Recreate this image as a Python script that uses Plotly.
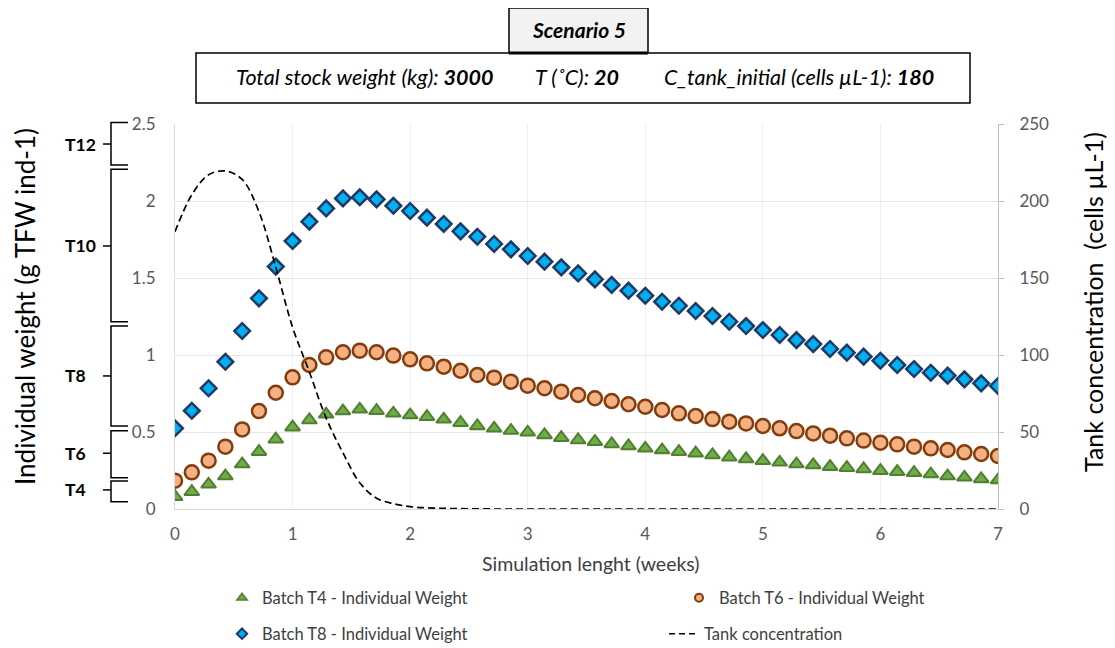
import plotly.graph_objects as go

# ---------------- data ----------------
days = list(range(50))
weeks = [d / 7 for d in days]

t4_weight = [0.080, 0.112, 0.160, 0.214, 0.292, 0.372, 0.453, 0.531, 0.578, 0.615,
             0.636, 0.647, 0.638, 0.621, 0.610, 0.599, 0.582, 0.560, 0.539, 0.524,
             0.509, 0.498, 0.481, 0.463, 0.448, 0.437, 0.422, 0.409, 0.394, 0.383,
             0.372, 0.362, 0.351, 0.336, 0.325, 0.314, 0.303, 0.292, 0.286, 0.275,
             0.268, 0.260, 0.249, 0.242, 0.236, 0.227, 0.214, 0.206, 0.195, 0.188]

t6_weight = [0.184, 0.238, 0.314, 0.405, 0.517, 0.636, 0.755, 0.855, 0.935, 0.985,
             1.018, 1.028, 1.018, 0.996, 0.972, 0.946, 0.924, 0.898, 0.870, 0.853,
             0.827, 0.801, 0.784, 0.762, 0.740, 0.719, 0.701, 0.680, 0.664, 0.643,
             0.621, 0.604, 0.584, 0.567, 0.556, 0.539, 0.524, 0.506, 0.491, 0.476,
             0.459, 0.444, 0.431, 0.420, 0.405, 0.394, 0.383, 0.368, 0.357, 0.344]

t8_weight = [0.524, 0.638, 0.784, 0.956, 1.156, 1.368, 1.574, 1.740, 1.866, 1.952,
             2.017, 2.024, 2.011, 1.969, 1.935, 1.892, 1.851, 1.803, 1.768, 1.721,
             1.686, 1.643, 1.606, 1.569, 1.530, 1.491, 1.455, 1.418, 1.385, 1.346,
             1.320, 1.286, 1.253, 1.216, 1.188, 1.162, 1.130, 1.097, 1.071, 1.039,
             1.015, 0.989, 0.963, 0.935, 0.909, 0.885, 0.866, 0.842, 0.816, 0.799]

tank_conc = [180, 204, 217, 219.5, 214, 193, 157, 118, 89, 59,
             36.5, 17, 7, 3.5, 1.5, 0.8, 0.4, 0.2, 0.1, 0,
             0, 0, 0, 0, 0, 0, 0, 0, 0, 0,
             0, 0, 0, 0, 0, 0, 0, 0, 0, 0,
             0, 0, 0, 0, 0, 0, 0, 0, 0, 0]

series_names = ["Batch T4 - Individual Weight", "Batch T6 - Individual Weight",
                "Batch T8 - Individual Weight", "Tank concentration"]

x_ticks = [0, 1, 2, 3, 4, 5, 6, 7]
y_ticks = [0, 0.5, 1, 1.5, 2, 2.5]
y_tick_labels = ["0", "0.5", "1", "1.5", "2", "2.5"]
y2_ticks = [0, 50, 100, 150, 200, 250]

# size-class brackets (weight range, g) on the left
class_labels = ["T12", "T10", "T8", "T6", "T4"]
class_low = [2.234, 1.216, 0.539, 0.203, 0.047]
class_high = [2.51, 2.206, 1.188, 0.508, 0.182]
class_mid = [2.37, 1.708, 0.864, 0.362, 0.124]

FONT = "Lato"
GRAY = "#595959"
DASH = "7px,4px"

# screen geometry (the page body adds an 8px margin around the figure)
OFF = 8
L, R, T, B = 175, 998, 124, 509        # plot area on screen
W, H = 1115 - OFF, 648 - OFF           # visible figure size
def px(xp):
    return (xp - L) / (R - L)
def py(yp):
    return (B - yp) / (B - T)

GREEN = dict(symbol="triangle-up", color="#70ad47", line=dict(color="#507e32", width=2))
ORANGE = dict(symbol="circle", color="#f4b183", line=dict(color="#843c0c", width=2.5))
BLUE = dict(symbol="diamond", color="#00b0f0", line=dict(color="#1f3864", width=2.5))

fig = go.Figure()

fig.add_trace(go.Scatter(x=weeks, y=t4_weight, mode="markers", name=series_names[0],
                         showlegend=False, marker=dict(size=13, **GREEN)))
fig.add_trace(go.Scatter(x=weeks, y=t6_weight, mode="markers", name=series_names[1],
                         showlegend=False, marker=dict(size=14, **ORANGE)))
fig.add_trace(go.Scatter(x=weeks, y=t8_weight, mode="markers", name=series_names[2],
                         showlegend=False, marker=dict(size=12, **BLUE)))
fig.add_trace(go.Scatter(x=weeks, y=tank_conc, mode="lines", name=series_names[3],
                         yaxis="y2", showlegend=False,
                         line=dict(color="black", width=1.7, dash=DASH, shape="spline")))

# legend entries (smaller symbols as in the reference legend)
leg_ids = ["legend", "legend2", "legend3", "legend4"]
fig.add_trace(go.Scatter(x=[None], y=[None], mode="markers", name=series_names[0],
                         legend=leg_ids[0], marker=dict(size=9, symbol="triangle-up",
                         color="#70ad47", line=dict(color="#507e32", width=1.5))))
fig.add_trace(go.Scatter(x=[None], y=[None], mode="markers", name=series_names[1],
                         legend=leg_ids[1], marker=dict(size=8, symbol="circle",
                         color="#f4b183", line=dict(color="#843c0c", width=2))))
fig.add_trace(go.Scatter(x=[None], y=[None], mode="markers", name=series_names[2],
                         legend=leg_ids[2], marker=dict(size=8, symbol="diamond",
                         color="#00b0f0", line=dict(color="#1f3864", width=2))))
fig.add_trace(go.Scatter(x=[None], y=[None], mode="lines", name=series_names[3],
                         legend=leg_ids[3], yaxis="y2",
                         line=dict(color="black", width=1.7, dash="6px,4px")))

shapes = []
annotations = []

def text(t, x, y, size, color="black", xanchor="center", angle=0):
    annotations.append(dict(text=t, xref="paper", yref="paper", x=px(x), y=py(y),
                            xanchor=xanchor, yanchor="middle", showarrow=False,
                            textangle=angle,
                            font=dict(family=FONT, size=size, color=color)))

# title boxes
shapes.append(dict(type="rect", xref="paper", yref="paper",
                   x0=px(509), x1=px(648), y0=py(53), y1=py(8),
                   fillcolor="#f2f2f2", line=dict(color="black", width=1.5)))
shapes.append(dict(type="rect", xref="paper", yref="paper",
                   x0=px(196), x1=px(970), y0=py(103), y1=py(53),
                   fillcolor="white", line=dict(color="black", width=1.5)))
shapes.append(dict(type="line", xref="paper", yref="paper",
                   x0=px(509), x1=px(648), y0=py(53), y1=py(53),
                   line=dict(color="black", width=3)))
text("<b><i>Scenario 5</i></b>", 579, 30, 21)
info_texts = ["<i>Total stock weight (kg): <b>3000</b></i>",
              "<i>T (˚C): <b>20</b></i>",
              "<i>C_tank_initial (cells µL-1): <b>180</b></i>"]
info_x = [234, 533, 662]
for t, xx in zip(info_texts, info_x):
    text(t, xx, 77, 21.5, xanchor="left")

# brackets
label_right = [98, 98, 88, 88, 88]
xv, xa, xt = px(111), px(128), px(103)
for lab, lo, hi, mid, lr in zip(class_labels, class_low, class_high, class_mid, label_right):
    y0, y1, ym = lo / 2.5, hi / 2.5, mid / 2.5
    shapes.append(dict(type="path", xref="paper", yref="paper",
                       path=f"M {xa} {y1} L {xv} {y1} L {xv} {y0} L {xa} {y0}",
                       line=dict(color="black", width=1.5)))
    shapes.append(dict(type="line", xref="paper", yref="paper",
                       x0=xt, x1=xv, y0=ym, y1=ym, line=dict(color="black", width=1.5)))
    annotations.append(dict(text=f"<b>{lab}</b>", xref="paper", yref="paper",
                            x=px(lr), y=ym, xanchor="right", yanchor="middle",
                            showarrow=False,
                            font=dict(family=FONT, size=17.5, color="black")))

# axis titles
text("Individual weight (g TFW ind-1)", 25, 307, 26, angle=-90)
text("Tank concentration  (cells µL-1)", 1093, 302, 25, angle=-90)
text("Simulation lenght (weeks)", 591, 563, 19.5, color="#404040")

leg_common = dict(orientation="h", xanchor="left", yanchor="middle",
                  itemsizing="trace", font=dict(family=FONT, size=16.5, color="#404040"),
                  bgcolor="rgba(0,0,0,0)", borderwidth=0)

fig.update_layout(
    width=W, height=H,
    margin=dict(l=L - OFF, r=W - (R - OFF), t=T - OFF, b=H - (B - OFF), pad=0,
                autoexpand=False),
    paper_bgcolor="white", plot_bgcolor="white",
    font=dict(family=FONT, color=GRAY),
    shapes=shapes, annotations=annotations,
    xaxis=dict(range=[0, 7], tickvals=x_ticks, showgrid=True, gridcolor="#f0f0f0",
               showline=True, linecolor="#d9d9d9", linewidth=1, zeroline=False,
               ticks="", ticklabelstandoff=10, tickfont=dict(size=17, color=GRAY)),
    yaxis=dict(range=[0, 2.5], tickvals=y_ticks, ticktext=y_tick_labels,
               showgrid=True, gridcolor="#e7e7e7", showline=True, linecolor="#d9d9d9",
               zeroline=False, ticks="", ticklabelstandoff=15,
               tickfont=dict(size=17, color=GRAY)),
    yaxis2=dict(range=[0, 250], tickvals=y2_ticks, overlaying="y", side="right",
                showgrid=False, showline=True, linecolor="#bfbfbf", zeroline=False,
                ticks="outside", ticklen=5, tickcolor="#bfbfbf", ticklabelstandoff=12,
                tickfont=dict(size=17, color=GRAY)),
    legend=dict(x=px(222), y=py(598), **leg_common),
    legend2=dict(x=px(679), y=py(598), **leg_common),
    legend3=dict(x=px(222), y=py(634), **leg_common),
    legend4=dict(x=px(664), y=py(634), **leg_common),
    showlegend=True,
)

fig.write_html("out.html")
